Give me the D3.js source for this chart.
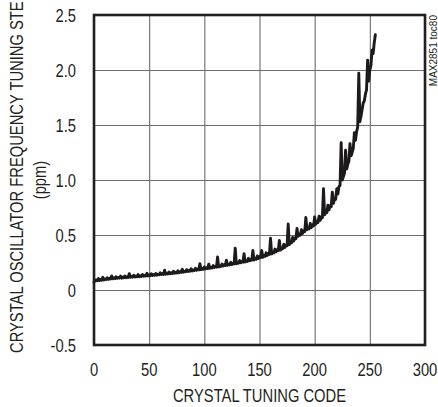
<!DOCTYPE html>
<html>
<head>
<meta charset="utf-8">
<script src="https://cdn.jsdelivr.net/npm/d3@7"></script>
<style>
  html, body { margin: 0; padding: 0; background: #fff; }
  svg { display: block; }
  text { font-family: "Liberation Sans", Arial, sans-serif; fill: #231f20; }
</style>
</head>
<body>
<svg id="chart" width="438" height="407"></svg>
<script>
// Frequency tuning step for each crystal tuning code (ppm), codes 0..255
const codes = d3.range(0, 256);
const tuningStep = [
  0.070, 0.088, 0.092, 0.084, 0.104, 0.087, 0.095, 0.089,
  0.115, 0.092, 0.101, 0.095, 0.112, 0.097, 0.106, 0.100,
  0.128, 0.102, 0.111, 0.104, 0.121, 0.106, 0.114, 0.108,
  0.126, 0.108, 0.118, 0.111, 0.128, 0.112, 0.121, 0.114,
  0.148, 0.115, 0.123, 0.117, 0.134, 0.118, 0.127, 0.120,
  0.140, 0.121, 0.130, 0.123, 0.141, 0.125, 0.133, 0.127,
  0.152, 0.128, 0.137, 0.130, 0.148, 0.132, 0.141, 0.134,
  0.150, 0.135, 0.144, 0.138, 0.156, 0.140, 0.149, 0.142,
  0.180, 0.143, 0.152, 0.146, 0.164, 0.148, 0.157, 0.151,
  0.170, 0.152, 0.161, 0.155, 0.174, 0.157, 0.167, 0.160,
  0.188, 0.162, 0.171, 0.165, 0.185, 0.168, 0.178, 0.171,
  0.193, 0.173, 0.183, 0.177, 0.197, 0.180, 0.190, 0.183,
  0.240, 0.185, 0.195, 0.188, 0.210, 0.192, 0.202, 0.195,
  0.235, 0.197, 0.207, 0.201, 0.222, 0.204, 0.215, 0.208,
  0.300, 0.210, 0.221, 0.214, 0.236, 0.218, 0.229, 0.222,
  0.270, 0.224, 0.235, 0.228, 0.252, 0.232, 0.244, 0.237,
  0.380, 0.238, 0.250, 0.243, 0.268, 0.248, 0.260, 0.253,
  0.330, 0.255, 0.267, 0.260, 0.288, 0.266, 0.279, 0.271,
  0.360, 0.273, 0.286, 0.279, 0.310, 0.286, 0.301, 0.294,
  0.360, 0.298, 0.313, 0.306, 0.338, 0.314, 0.331, 0.324,
  0.470, 0.328, 0.344, 0.337, 0.372, 0.347, 0.365, 0.358,
  0.450, 0.363, 0.381, 0.375, 0.415, 0.387, 0.409, 0.402,
  0.600, 0.413, 0.436, 0.428, 0.478, 0.445, 0.473, 0.466,
  0.560, 0.488, 0.506, 0.498, 0.548, 0.513, 0.538, 0.530,
  0.660, 0.548, 0.564, 0.556, 0.605, 0.568, 0.591, 0.583,
  0.665, 0.598, 0.621, 0.613, 0.670, 0.633, 0.666, 0.658,
  0.920, 0.683, 0.711, 0.703, 0.770, 0.728, 0.766, 0.758,
  0.890, 0.788, 0.831, 0.823, 0.920, 0.873, 0.941, 0.950,
  1.340, 1.000, 1.030, 1.060, 1.270, 1.100, 1.140, 1.170,
  1.330, 1.220, 1.250, 1.290, 1.430, 1.360, 1.440, 1.480,
  1.970, 1.530, 1.580, 1.640, 1.700, 1.720, 1.780, 1.820,
  2.090, 1.900, 2.000, 2.040, 2.180, 2.150, 2.250, 2.320
];

const xTicks = [0, 50, 100, 150, 200, 250, 300];
const yTicks = [-0.5, 0, 0.5, 1.0, 1.5, 2.0, 2.5];
const yTickLabels = ["-0.5", "0", "0.5", "1.0", "1.5", "2.0", "2.5"];
const xTitle = "CRYSTAL TUNING CODE";
const yTitle = "CRYSTAL OSCILLATOR FREQUENCY TUNING STEP";
const yUnit = "(ppm)";
const tag = "MAX2851 toc80";

const svg = d3.select("#chart");
const plotLeft = 94, plotRight = 425, plotTop = 15, plotBottom = 345;
const w = plotRight - plotLeft, h = plotBottom - plotTop;
const FS = 18, NARROW = 0.82;   // condensed sans look

const x = d3.scaleLinear().domain([0, 300]).range([plotLeft, plotRight]);
const y = d3.scaleLinear().domain([-0.5, 2.5]).range([plotBottom, plotTop]);

// narrow text helper: squeeze along the reading direction
function label(px, py, rot, anchor, str, size = FS) {
  return svg.append("text")
    .attr("transform", `translate(${px},${py}) rotate(${rot}) scale(${NARROW},1)`)
    .attr("text-anchor", anchor)
    .attr("font-size", size)
    .text(str);
}

// grid lines from axes (labels drawn separately)
const gx = svg.append("g")
  .attr("transform", `translate(0,${plotBottom})`)
  .call(d3.axisBottom(x).tickValues(xTicks).tickSizeInner(-h).tickSizeOuter(0).tickFormat(""));
const gy = svg.append("g")
  .attr("transform", `translate(${plotLeft},0)`)
  .call(d3.axisLeft(y).tickValues(yTicks).tickSizeInner(-w).tickSizeOuter(0).tickFormat(""));
[gx, gy].forEach(g => {
  g.select(".domain").remove();
  g.selectAll(".tick line").attr("stroke", "#6d6d6d").attr("stroke-width", 1.1);
});

// tick labels
xTicks.forEach(t => label(x(t), 376, 0, "middle", String(t)));
yTicks.forEach((t, i) => label(plotLeft - 18, y(t) + 7, 0, "end", yTickLabels[i]));

// curve
const line = d3.line().x((d, i) => x(codes[i])).y(d => y(d));
svg.append("path")
  .datum(tuningStep)
  .attr("d", line)
  .attr("fill", "none")
  .attr("stroke", "#1c1a1b")
  .attr("stroke-width", 2.9)
  .attr("stroke-linejoin", "round")
  .attr("stroke-linecap", "round");

// frame
svg.append("rect")
  .attr("x", plotLeft).attr("y", plotTop).attr("width", w).attr("height", h)
  .attr("fill", "none").attr("stroke", "#231f20").attr("stroke-width", 2.6);

// axis titles
label((plotLeft + plotRight) / 2, 402, 0, "middle", xTitle);
label(23, 353, -90, "start", yTitle);
label(46, 180, -90, "middle", yUnit);

svg.append("text")
  .attr("transform", "translate(437,15) rotate(-90)")
  .attr("text-anchor", "end").attr("font-size", 10)
  .text(tag);
</script>
</body>
</html>
